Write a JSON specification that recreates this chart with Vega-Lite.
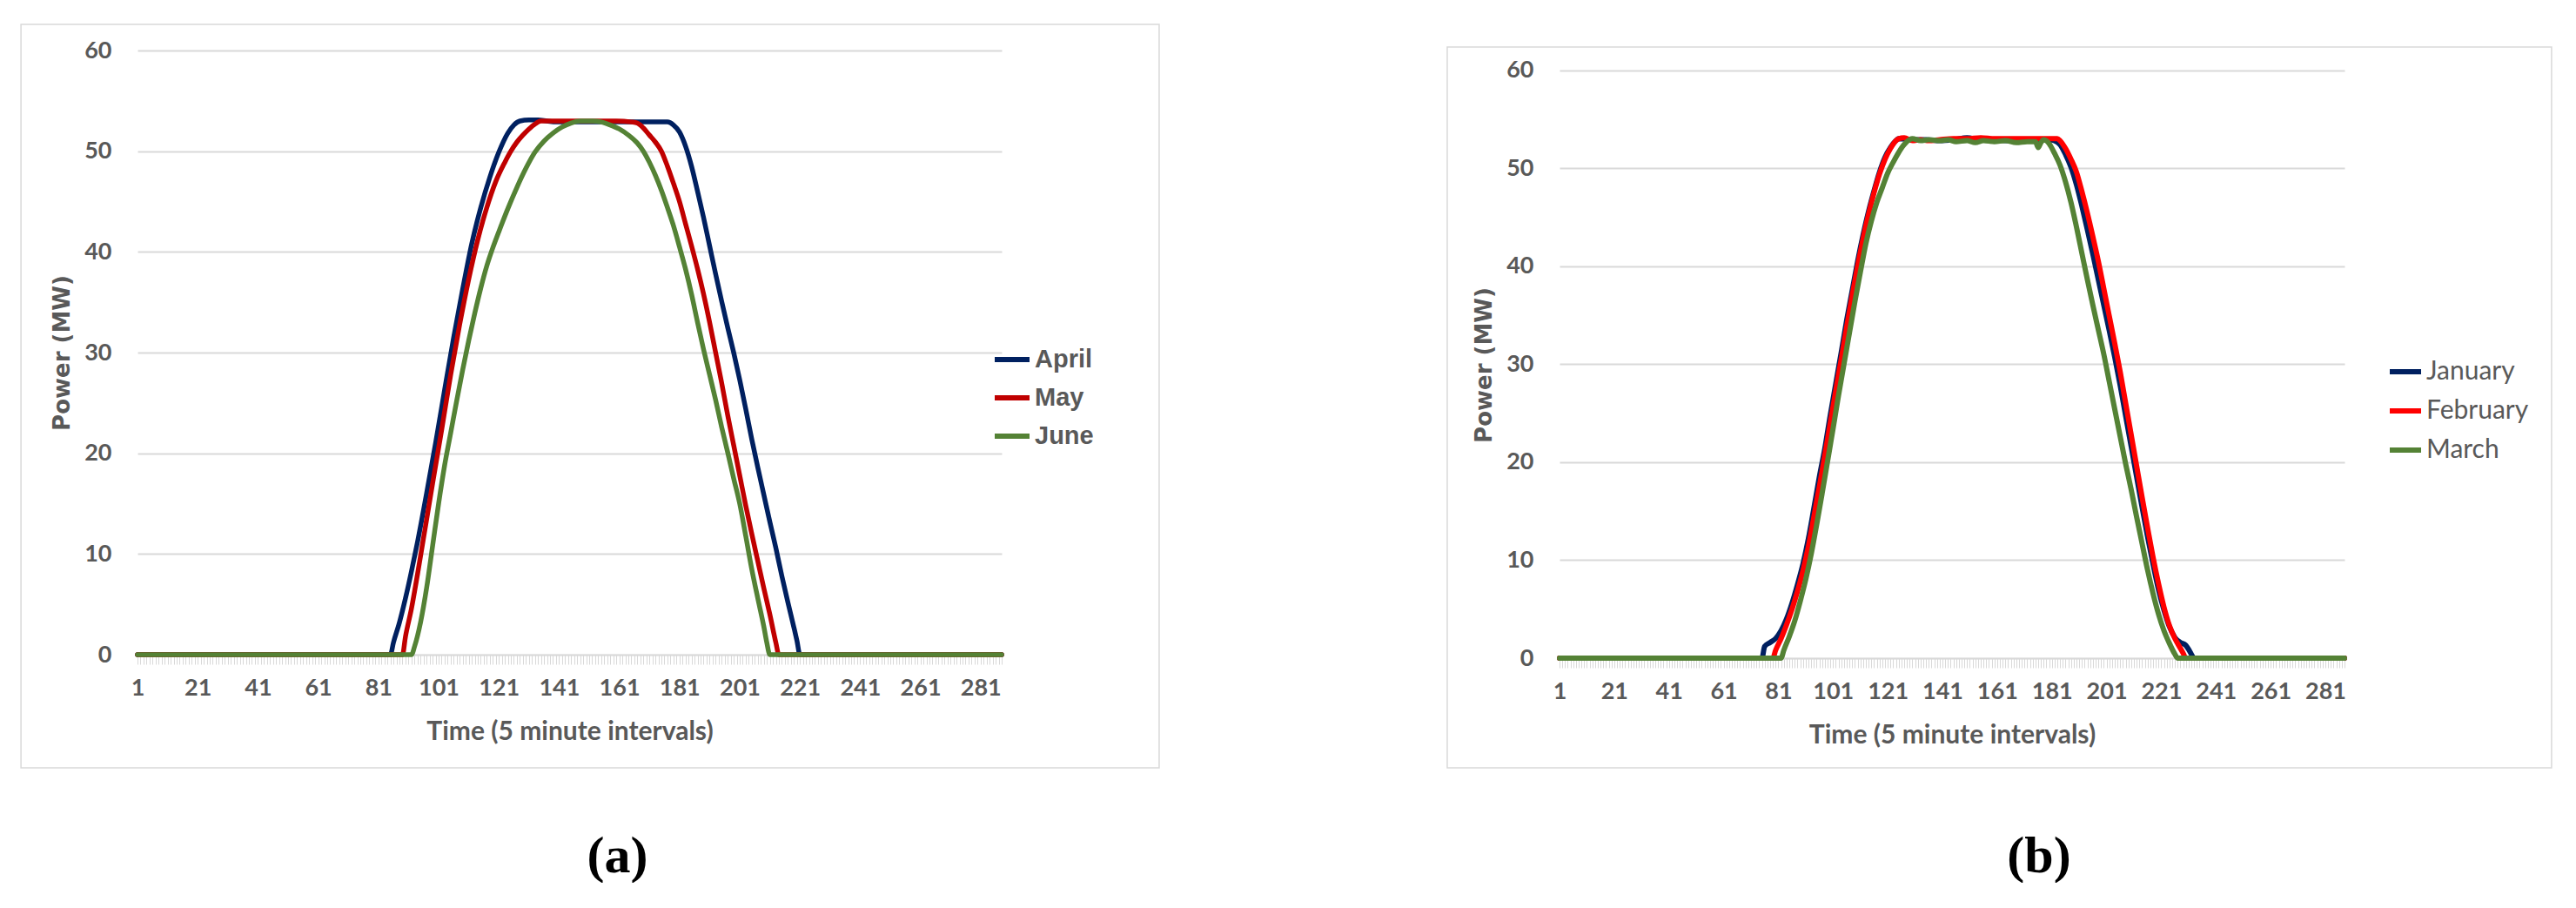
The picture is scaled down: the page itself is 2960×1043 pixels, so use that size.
{
  "$schema": "https://vega.github.io/schema/vega-lite/v6.json",
  "background": "white",
  "padding": {"left": 23, "top": 27, "right": 0, "bottom": 0},
  "spacing": 329,
  "config": {
    "view": {"stroke": null},
    "font": "Lato",
    "axisX": {
      "tickCount": 288, "format": "d",
      "labelExpr": "(datum.value - 1) % 20 === 0 ? datum.label : ''",
      "labelOverlap": false, "labelFlush": false, "labelBound": false,
      "grid": false, "domainColor": "#d9d9d9", "domainWidth": 1.5,
      "tickColor": "#d9d9d9", "tickSize": 11, "tickWidth": 1,
      "labelPadding": 14, "labelFont": "Lato", "labelFontSize": 27, "labelFontWeight": "bold", "labelColor": "#595959",
      "titleFont": "Lato", "titleFontSize": 30, "titleFontWeight": "bold", "titleColor": "#595959", "titlePadding": 22
    },
    "axisY": {
      "grid": true, "gridColor": "#d9d9d9", "gridWidth": 2,
      "domain": false, "ticks": false, "labelPadding": 30,
      "labelFont": "Lato", "labelFontSize": 27, "labelFontWeight": "bold", "labelColor": "#595959",
      "titleFont": "DejaVu Sans", "titleFontSize": 26, "titleFontWeight": "bold", "titleColor": "#595959", "titlePadding": 12
    }
  },
  "resolve": {"scale": {"color": "independent", "x": "independent", "y": "independent"}},
  "datasets": {
    "A": [
      {"month":"April","t":1,"p":0},{"month":"April","t":85,"p":0},{"month":"April","t":86,"p":1.2},{"month":"April","t":88,"p":3.2},{"month":"April","t":90,"p":5.6},{"month":"April","t":92,"p":8.3},{"month":"April","t":94,"p":11.2},{"month":"April","t":97,"p":16.0},{"month":"April","t":100,"p":21.0},{"month":"April","t":103,"p":26.3},{"month":"April","t":106,"p":31.5},{"month":"April","t":109,"p":36.3},{"month":"April","t":112,"p":40.8},{"month":"April","t":115,"p":44.4},{"month":"April","t":118,"p":47.4},{"month":"April","t":121,"p":49.9},{"month":"April","t":124,"p":51.8},{"month":"April","t":126,"p":52.6},{"month":"April","t":128,"p":53.0},{"month":"April","t":131,"p":53.1},{"month":"April","t":134,"p":53.1},{"month":"April","t":137,"p":53.0},{"month":"April","t":140,"p":52.9},{"month":"April","t":150,"p":52.9},{"month":"April","t":160,"p":52.9},{"month":"April","t":170,"p":52.9},{"month":"April","t":177,"p":52.9},{"month":"April","t":179,"p":52.6},{"month":"April","t":181,"p":51.9},{"month":"April","t":183,"p":50.5},{"month":"April","t":185,"p":48.5},{"month":"April","t":187,"p":46.0},{"month":"April","t":189,"p":43.4},{"month":"April","t":191,"p":40.6},{"month":"April","t":193,"p":37.8},{"month":"April","t":195,"p":35.1},{"month":"April","t":197,"p":32.5},{"month":"April","t":199,"p":30.0},{"month":"April","t":201,"p":27.3},{"month":"April","t":203,"p":24.4},{"month":"April","t":205,"p":21.4},{"month":"April","t":207,"p":18.6},{"month":"April","t":209,"p":15.9},{"month":"April","t":211,"p":13.2},{"month":"April","t":213,"p":10.6},{"month":"April","t":215,"p":7.8},{"month":"April","t":217,"p":5.2},{"month":"April","t":219,"p":2.7},{"month":"April","t":220,"p":1.4},{"month":"April","t":221,"p":0},{"month":"April","t":288,"p":0},
      {"month":"May","t":1,"p":0},{"month":"May","t":89,"p":0},{"month":"May","t":90,"p":1.8},{"month":"May","t":92,"p":4.6},{"month":"May","t":94,"p":8.0},{"month":"May","t":96,"p":11.6},{"month":"May","t":99,"p":17.0},{"month":"May","t":102,"p":22.3},{"month":"May","t":105,"p":27.8},{"month":"May","t":108,"p":32.8},{"month":"May","t":111,"p":37.3},{"month":"May","t":114,"p":41.2},{"month":"May","t":117,"p":44.4},{"month":"May","t":120,"p":47.0},{"month":"May","t":123,"p":48.9},{"month":"May","t":125,"p":50.0},{"month":"May","t":127,"p":50.9},{"month":"May","t":129,"p":51.6},{"month":"May","t":131,"p":52.2},{"month":"May","t":133,"p":52.7},{"month":"May","t":135,"p":53.0},{"month":"May","t":140,"p":53.0},{"month":"May","t":150,"p":53.0},{"month":"May","t":160,"p":53.0},{"month":"May","t":165,"p":52.9},{"month":"May","t":167,"p":52.8},{"month":"May","t":169,"p":52.3},{"month":"May","t":171,"p":51.6},{"month":"May","t":173,"p":50.9},{"month":"May","t":175,"p":50.0},{"month":"May","t":177,"p":48.5},{"month":"May","t":179,"p":46.8},{"month":"May","t":181,"p":45.0},{"month":"May","t":183,"p":42.8},{"month":"May","t":185,"p":40.6},{"month":"May","t":187,"p":38.3},{"month":"May","t":189,"p":35.8},{"month":"May","t":191,"p":33.0},{"month":"May","t":193,"p":30.0},{"month":"May","t":195,"p":27.0},{"month":"May","t":197,"p":23.8},{"month":"May","t":199,"p":20.8},{"month":"May","t":201,"p":17.8},{"month":"May","t":203,"p":14.8},{"month":"May","t":205,"p":12.0},{"month":"May","t":207,"p":9.3},{"month":"May","t":209,"p":6.6},{"month":"May","t":211,"p":4.0},{"month":"May","t":213,"p":1.2},{"month":"May","t":214,"p":0},{"month":"May","t":288,"p":0},
      {"month":"June","t":1,"p":0},{"month":"June","t":92,"p":0},{"month":"June","t":93,"p":0.8},{"month":"June","t":95,"p":3.2},{"month":"June","t":97,"p":6.6},{"month":"June","t":99,"p":10.8},{"month":"June","t":101,"p":15.0},{"month":"June","t":103,"p":18.8},{"month":"June","t":105,"p":22.0},{"month":"June","t":107,"p":25.2},{"month":"June","t":109,"p":28.3},{"month":"June","t":111,"p":31.2},{"month":"June","t":113,"p":33.9},{"month":"June","t":115,"p":36.4},{"month":"June","t":117,"p":38.6},{"month":"June","t":119,"p":40.4},{"month":"June","t":121,"p":42.0},{"month":"June","t":124,"p":44.3},{"month":"June","t":127,"p":46.4},{"month":"June","t":130,"p":48.3},{"month":"June","t":133,"p":49.9},{"month":"June","t":136,"p":51.0},{"month":"June","t":139,"p":51.8},{"month":"June","t":142,"p":52.4},{"month":"June","t":145,"p":52.8},{"month":"June","t":148,"p":53.0},{"month":"June","t":152,"p":53.0},{"month":"June","t":155,"p":52.9},{"month":"June","t":158,"p":52.6},{"month":"June","t":161,"p":52.2},{"month":"June","t":164,"p":51.6},{"month":"June","t":167,"p":50.8},{"month":"June","t":169,"p":50.0},{"month":"June","t":171,"p":48.9},{"month":"June","t":173,"p":47.6},{"month":"June","t":175,"p":46.1},{"month":"June","t":177,"p":44.4},{"month":"June","t":179,"p":42.6},{"month":"June","t":181,"p":40.5},{"month":"June","t":183,"p":38.3},{"month":"June","t":185,"p":35.8},{"month":"June","t":187,"p":33.0},{"month":"June","t":189,"p":30.3},{"month":"June","t":191,"p":27.8},{"month":"June","t":193,"p":25.3},{"month":"June","t":195,"p":22.6},{"month":"June","t":197,"p":20.1},{"month":"June","t":199,"p":17.5},{"month":"June","t":201,"p":15.0},{"month":"June","t":203,"p":11.8},{"month":"June","t":205,"p":8.5},{"month":"June","t":207,"p":5.6},{"month":"June","t":209,"p":2.8},{"month":"June","t":210,"p":1.2},{"month":"June","t":211,"p":0},{"month":"June","t":288,"p":0}
    ],
    "B": [
      {"month":"January","t":1,"p":0},{"month":"January","t":75,"p":0},{"month":"January","t":76,"p":1.2},{"month":"January","t":78,"p":1.6},{"month":"January","t":80,"p":2.0},{"month":"January","t":82,"p":2.8},{"month":"January","t":84,"p":4.0},{"month":"January","t":86,"p":5.6},{"month":"January","t":88,"p":7.5},{"month":"January","t":90,"p":9.6},{"month":"January","t":92,"p":12.2},{"month":"January","t":94,"p":15.3},{"month":"January","t":96,"p":18.5},{"month":"January","t":98,"p":21.4},{"month":"January","t":100,"p":24.8},{"month":"January","t":102,"p":28.0},{"month":"January","t":104,"p":31.2},{"month":"January","t":106,"p":34.5},{"month":"January","t":108,"p":37.5},{"month":"January","t":110,"p":40.5},{"month":"January","t":112,"p":43.2},{"month":"January","t":114,"p":45.6},{"month":"January","t":116,"p":47.7},{"month":"January","t":118,"p":49.6},{"month":"January","t":120,"p":51.1},{"month":"January","t":122,"p":52.1},{"month":"January","t":124,"p":52.8},{"month":"January","t":125,"p":53.0},{"month":"January","t":130,"p":52.9},{"month":"January","t":135,"p":52.9},{"month":"January","t":140,"p":52.8},{"month":"January","t":145,"p":52.9},{"month":"January","t":150,"p":53.1},{"month":"January","t":155,"p":52.9},{"month":"January","t":160,"p":52.9},{"month":"January","t":165,"p":52.8},{"month":"January","t":170,"p":52.9},{"month":"January","t":175,"p":52.9},{"month":"January","t":180,"p":52.9},{"month":"January","t":182,"p":52.8},{"month":"January","t":184,"p":52.4},{"month":"January","t":186,"p":51.4},{"month":"January","t":188,"p":50.1},{"month":"January","t":190,"p":48.3},{"month":"January","t":192,"p":46.1},{"month":"January","t":194,"p":43.7},{"month":"January","t":196,"p":41.2},{"month":"January","t":198,"p":38.6},{"month":"January","t":200,"p":36.0},{"month":"January","t":202,"p":33.4},{"month":"January","t":204,"p":30.7},{"month":"January","t":206,"p":27.8},{"month":"January","t":208,"p":24.7},{"month":"January","t":210,"p":21.6},{"month":"January","t":212,"p":18.5},{"month":"January","t":214,"p":15.4},{"month":"January","t":216,"p":12.4},{"month":"January","t":218,"p":9.6},{"month":"January","t":220,"p":7.0},{"month":"January","t":222,"p":4.9},{"month":"January","t":224,"p":3.2},{"month":"January","t":226,"p":2.1},{"month":"January","t":228,"p":1.6},{"month":"January","t":230,"p":1.3},{"month":"January","t":231,"p":0.9},{"month":"January","t":232,"p":0.4},{"month":"January","t":233,"p":0},{"month":"January","t":288,"p":0},
      {"month":"February","t":1,"p":0},{"month":"February","t":79,"p":0},{"month":"February","t":80,"p":0.8},{"month":"February","t":82,"p":2.0},{"month":"February","t":84,"p":3.4},{"month":"February","t":86,"p":5.0},{"month":"February","t":88,"p":6.8},{"month":"February","t":90,"p":8.9},{"month":"February","t":92,"p":11.4},{"month":"February","t":94,"p":14.4},{"month":"February","t":96,"p":17.5},{"month":"February","t":98,"p":20.7},{"month":"February","t":100,"p":24.0},{"month":"February","t":102,"p":27.3},{"month":"February","t":104,"p":30.5},{"month":"February","t":106,"p":33.8},{"month":"February","t":108,"p":37.0},{"month":"February","t":110,"p":40.0},{"month":"February","t":112,"p":42.8},{"month":"February","t":114,"p":45.3},{"month":"February","t":116,"p":47.5},{"month":"February","t":118,"p":49.4},{"month":"February","t":120,"p":50.9},{"month":"February","t":122,"p":52.0},{"month":"February","t":124,"p":52.8},{"month":"February","t":125,"p":53.0},{"month":"February","t":127,"p":53.1},{"month":"February","t":130,"p":52.8},{"month":"February","t":133,"p":52.9},{"month":"February","t":136,"p":52.8},{"month":"February","t":140,"p":52.9},{"month":"February","t":145,"p":53.0},{"month":"February","t":150,"p":53.0},{"month":"February","t":155,"p":53.1},{"month":"February","t":160,"p":53.0},{"month":"February","t":170,"p":53.0},{"month":"February","t":180,"p":53.0},{"month":"February","t":183,"p":53.0},{"month":"February","t":184,"p":52.8},{"month":"February","t":186,"p":52.0},{"month":"February","t":188,"p":50.9},{"month":"February","t":190,"p":49.6},{"month":"February","t":192,"p":47.6},{"month":"February","t":194,"p":45.4},{"month":"February","t":196,"p":43.0},{"month":"February","t":198,"p":40.5},{"month":"February","t":200,"p":37.7},{"month":"February","t":202,"p":34.9},{"month":"February","t":204,"p":32.1},{"month":"February","t":206,"p":29.2},{"month":"February","t":208,"p":26.0},{"month":"February","t":210,"p":22.8},{"month":"February","t":212,"p":19.6},{"month":"February","t":214,"p":16.4},{"month":"February","t":216,"p":13.3},{"month":"February","t":218,"p":10.3},{"month":"February","t":220,"p":7.6},{"month":"February","t":222,"p":5.2},{"month":"February","t":224,"p":3.3},{"month":"February","t":226,"p":2.0},{"month":"February","t":228,"p":1.0},{"month":"February","t":229,"p":0.5},{"month":"February","t":230,"p":0},{"month":"February","t":288,"p":0},
      {"month":"March","t":1,"p":0},{"month":"March","t":82,"p":0},{"month":"March","t":83,"p":0.8},{"month":"March","t":85,"p":2.2},{"month":"March","t":87,"p":3.8},{"month":"March","t":89,"p":5.8},{"month":"March","t":91,"p":8.0},{"month":"March","t":93,"p":10.6},{"month":"March","t":95,"p":13.6},{"month":"March","t":97,"p":16.8},{"month":"March","t":99,"p":20.1},{"month":"March","t":101,"p":23.4},{"month":"March","t":103,"p":26.8},{"month":"March","t":105,"p":30.0},{"month":"March","t":107,"p":33.2},{"month":"March","t":109,"p":36.4},{"month":"March","t":111,"p":39.4},{"month":"March","t":113,"p":42.3},{"month":"March","t":115,"p":44.6},{"month":"March","t":117,"p":46.5},{"month":"March","t":119,"p":48.0},{"month":"March","t":121,"p":49.5},{"month":"March","t":123,"p":50.6},{"month":"March","t":125,"p":51.6},{"month":"March","t":127,"p":52.4},{"month":"March","t":129,"p":52.9},{"month":"March","t":130,"p":53.0},{"month":"March","t":133,"p":52.8},{"month":"March","t":136,"p":52.9},{"month":"March","t":140,"p":52.8},{"month":"March","t":143,"p":52.9},{"month":"March","t":146,"p":52.7},{"month":"March","t":150,"p":52.8},{"month":"March","t":153,"p":52.6},{"month":"March","t":156,"p":52.8},{"month":"March","t":160,"p":52.7},{"month":"March","t":164,"p":52.8},{"month":"March","t":168,"p":52.6},{"month":"March","t":172,"p":52.7},{"month":"March","t":175,"p":52.7},{"month":"March","t":176,"p":52.1},{"month":"March","t":177,"p":52.6},{"month":"March","t":178,"p":52.9},{"month":"March","t":179,"p":52.8},{"month":"March","t":180,"p":52.5},{"month":"March","t":182,"p":51.5},{"month":"March","t":184,"p":50.3},{"month":"March","t":186,"p":48.6},{"month":"March","t":188,"p":46.5},{"month":"March","t":190,"p":44.0},{"month":"March","t":192,"p":41.3},{"month":"March","t":194,"p":38.6},{"month":"March","t":196,"p":36.0},{"month":"March","t":198,"p":33.5},{"month":"March","t":200,"p":31.0},{"month":"March","t":202,"p":28.2},{"month":"March","t":204,"p":25.4},{"month":"March","t":206,"p":22.6},{"month":"March","t":208,"p":19.8},{"month":"March","t":210,"p":17.2},{"month":"March","t":212,"p":14.4},{"month":"March","t":214,"p":11.7},{"month":"March","t":216,"p":9.0},{"month":"March","t":218,"p":6.6},{"month":"March","t":220,"p":4.5},{"month":"March","t":222,"p":2.8},{"month":"March","t":224,"p":1.5},{"month":"March","t":226,"p":0.4},{"month":"March","t":227,"p":0},{"month":"March","t":288,"p":0}
    ]
  },
  "hconcat": [
    {
      "width": 993,
      "height": 694,
      "title": {"text": "(a)", "orient": "bottom", "anchor": "middle", "frame": "group", "dx": 55, "offset": 72, "font": "Liberation Serif", "fontSize": 60, "fontWeight": "bold", "color": "black"},
      "layer": [
        {
          "data": {"values": [{}]},
          "mark": {"type": "rect", "filled": false, "stroke": "#d9d9d9", "strokeWidth": 1.5},
          "encoding": {
            "x": {"datum": -37.7, "type": "quantitative", "scale": {"domain": [1, 288], "nice": false, "zero": false}, "axis": {"title": "Time (5 minute intervals)"}},
            "x2": {"datum": 340.3},
            "y": {"datum": 62.59, "type": "quantitative", "scale": {"domain": [0, 60], "nice": false}, "axis": {"title": "Power (MW)", "values": [0, 10, 20, 30, 40, 50, 60]}},
            "y2": {"datum": -11.24}
          }
        },
        {
          "data": {"name": "A"},
          "mark": {"type": "line", "strokeWidth": 5.5, "interpolate": "monotone", "strokeCap": "round", "strokeJoin": "round"},
          "encoding": {
            "x": {"field": "t", "type": "quantitative", "scale": {"domain": [1, 288], "nice": false, "zero": false}, "axis": {"title": "Time (5 minute intervals)"}},
            "y": {"field": "p", "type": "quantitative", "scale": {"domain": [0, 60], "nice": false}, "axis": {"title": "Power (MW)", "values": [0, 10, 20, 30, 40, 50, 60]}},
            "color": {
              "field": "month", "type": "nominal",
              "scale": {"domain": ["April", "May", "June"], "range": ["#002060", "#C00000", "#548235"]},
              "legend": {"title": null, "orient": "none", "legendX": 982, "legendY": 332, "symbolType": "stroke", "symbolSize": 1600, "symbolStrokeWidth": 6, "labelFont": "Liberation Sans", "labelFontSize": 29, "labelFontWeight": "bold", "labelColor": "#595959", "labelOffset": 3, "rowPadding": 6}
            }
          }
        }
      ]
    },
    {
      "width": 902,
      "height": 698,
      "title": {"text": "(b)", "orient": "bottom", "anchor": "middle", "frame": "group", "dx": 100, "offset": 72, "font": "Liberation Serif", "fontSize": 60, "fontWeight": "bold", "color": "black"},
      "layer": [
        {
          "data": {"values": [{}]},
          "mark": {"type": "rect", "filled": false, "stroke": "#d9d9d9", "strokeWidth": 1.5},
          "encoding": {
            "x": {"datum": -40.05, "type": "quantitative", "scale": {"domain": [1, 288], "nice": false, "zero": false}, "axis": {"title": "Time (5 minute intervals)"}},
            "x2": {"datum": 363.7},
            "y": {"datum": 62.36, "type": "quantitative", "scale": {"domain": [0, 62], "nice": false}, "axis": {"title": "Power (MW)", "titleY": 361, "values": [0, 10, 20, 30, 40, 50, 60]}},
            "y2": {"datum": -11.19}
          }
        },
        {
          "data": {"name": "B"},
          "mark": {"type": "line", "strokeWidth": 6, "interpolate": "monotone", "strokeCap": "round", "strokeJoin": "round"},
          "encoding": {
            "x": {"field": "t", "type": "quantitative", "scale": {"domain": [1, 288], "nice": false, "zero": false}, "axis": {"title": "Time (5 minute intervals)"}},
            "y": {"field": "p", "type": "quantitative", "scale": {"domain": [0, 62], "nice": false}, "axis": {"title": "Power (MW)", "titleY": 361, "values": [0, 10, 20, 30, 40, 50, 60]}},
            "color": {
              "field": "month", "type": "nominal",
              "scale": {"domain": ["January", "February", "March"], "range": ["#002060", "#FF0000", "#548235"]},
              "legend": {"title": null, "orient": "none", "legendX": 951, "legendY": 348, "symbolType": "stroke", "symbolSize": 1296, "symbolStrokeWidth": 6, "labelFont": "Lato", "labelFontSize": 30, "labelColor": "#595959", "labelOffset": 3, "rowPadding": 9}
            }
          }
        }
      ]
    }
  ]
}
